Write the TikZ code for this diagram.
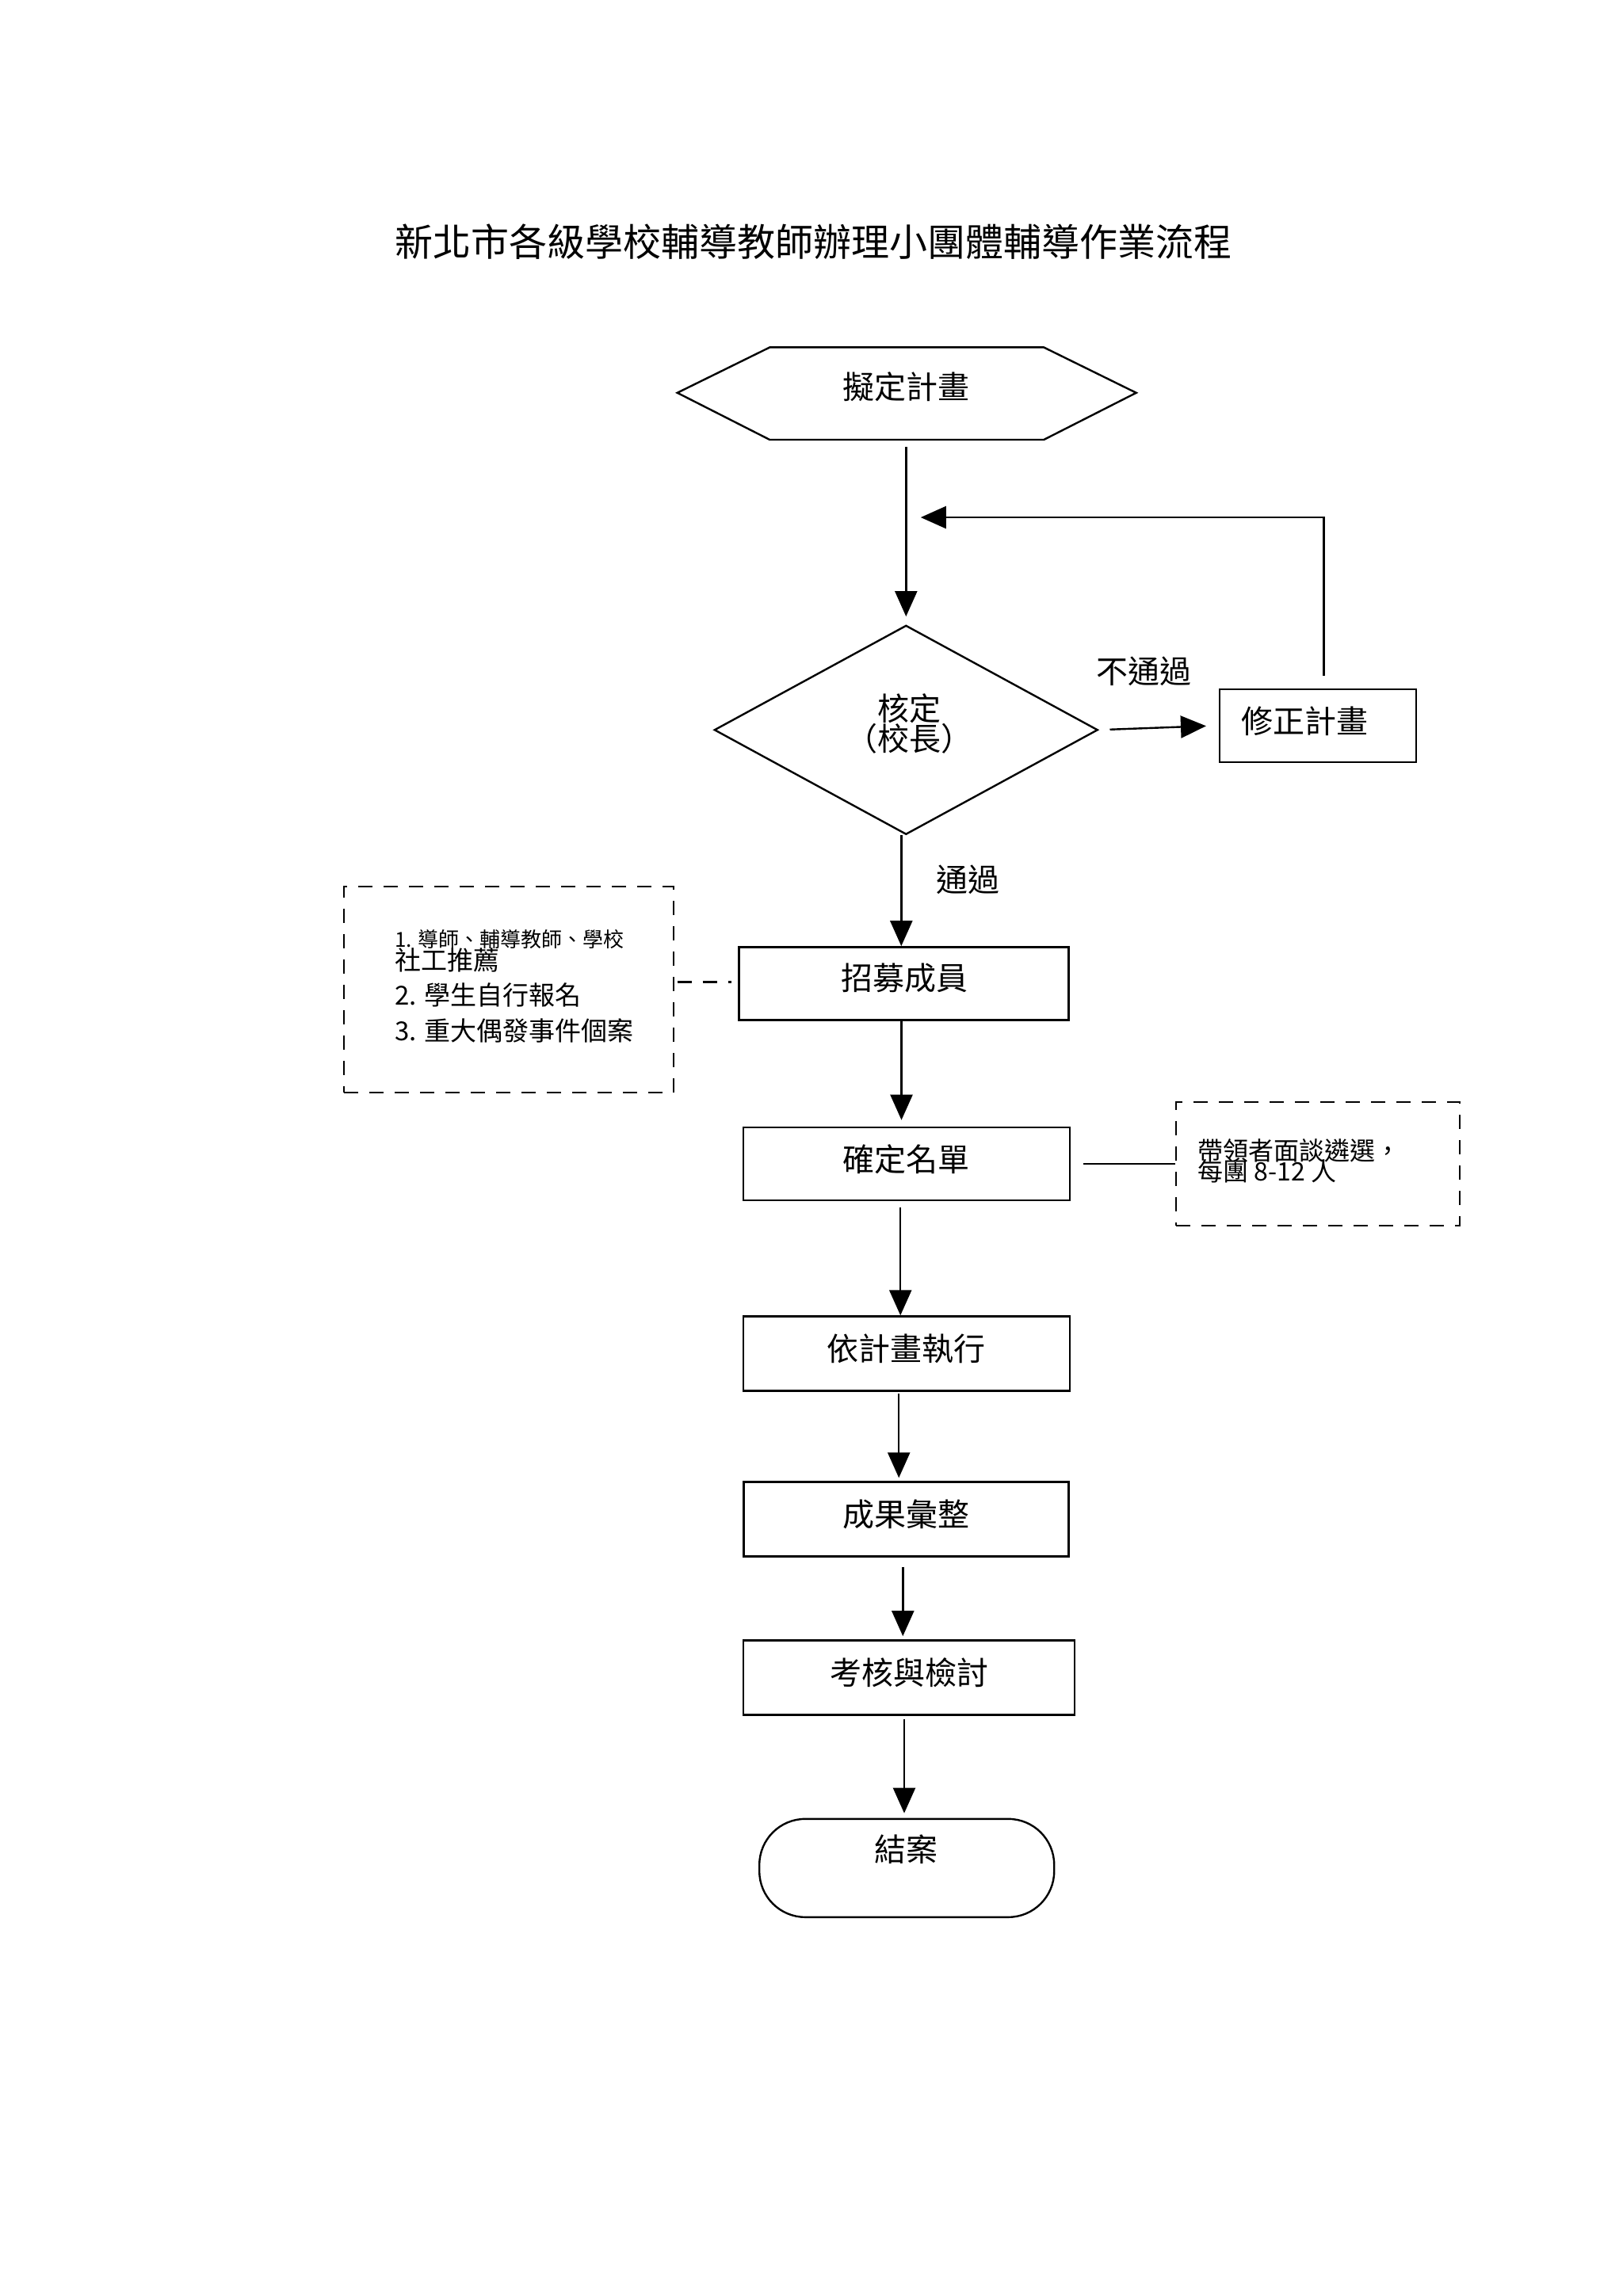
\documentclass[tikz,border=0pt]{standalone}
\usepackage{fontspec}
\setmainfont{Noto Sans CJK TC}
\usetikzlibrary{shapes.geometric,arrows.meta}
\begin{document}
\begin{tikzpicture}[x=0.925pt,y=-0.925pt,
  every node/.style={font=\fontsize{20}{24}\selectfont,inner sep=0pt},
  box/.style={draw,line width=1.2pt,rectangle},
  arr/.style={line width=1.2pt,-{Triangle[length=16pt,width=14pt]}},
  ln/.style={line width=1.2pt},
  dsh/.style={line width=1.2pt,dash pattern=on 9pt off 7pt},
  dbox/.style={draw,dsh,rectangle},
  small/.style={anchor=west,font=\fontsize{16.5}{18}\selectfont}]
\useasboundingbox (0,0) rectangle (1107,1566.5);
\node (title) at (555,165) {\fontsize{24}{28}\selectfont 新北市各級學校輔導教師辦理小團體輔導作業流程};
% hexagon
\draw[ln] (462,268) -- (525,237) -- (712,237) -- (775,268) -- (712,300) -- (525,300) -- cycle;
\node[minimum width=290pt,minimum height=58pt] (plan) at (618,268) {};
\node at (618,264) {擬定計畫};
\node[draw,diamond,line width=1.2pt,minimum width=242pt,minimum height=132pt,aspect=1.8] (check) at (618,498) {};
\node[align=center,font=\fontsize{20}{19}\selectfont] at (620,494) {核定\\（校長）};
\node[box,minimum width=124pt,minimum height=46pt] (rev) at (899,495) {};
\node at (890,492) {修正計畫};
\node at (780,458) {不通過};
\node at (660,600) {通過};
\node[box,minimum width=208pt,minimum height=46pt] (rec) at (616.5,671) {};
\node at (617,667) {招募成員};
\node[box,minimum width=206pt,minimum height=46pt] (conf) at (618.5,794) {};
\node at (618,791) {確定名單};
\node[box,minimum width=206pt,minimum height=47pt] (exec) at (618.5,923.5) {};
\node at (618,920) {依計畫執行};
\node[box,minimum width=205pt,minimum height=47pt] (res) at (618,1036.5) {};
\node at (618,1033) {成果彙整};
\node[box,minimum width=209pt,minimum height=47pt] (eval) at (620,1144.5) {};
\node at (620,1141) {考核與檢討};
\node[draw,line width=1.2pt,rounded corners=29pt,minimum width=186pt,minimum height=62pt] (end) at (618.5,1274.5) {};
\node at (618,1262) {結案};
% dashed boxes
\node[dbox,minimum width=208pt,minimum height=130pt] (lbox) at (347,675) {};
\node[small,font=\fontsize{13}{15}\selectfont] at (269,641) {1. 導師、輔導教師、學校};
\node[small] at (269,655) {社工推薦};
\node[small] at (269,679) {2. 學生自行報名};
\node[small] at (269,703) {3. 重大偶發事件個案};
\node[dbox,minimum width=179pt,minimum height=78pt] (rbox) at (899,794) {};
\node[small,font=\fontsize{16}{18}\selectfont] at (817,785) {帶領者面談遴選，};
\node[small,font=\fontsize{16}{18}\selectfont] at (817,799) {每團 8-12 人};
% connectors
\coordinate (lj) at (462,670);
\draw[arr,shorten <=5pt,shorten >=5pt] (plan.south) -- (check.north);
\draw[arr,shorten <=7pt,shorten >=8pt] (check.east) -- (rev.west);
\draw[arr,shorten <=8pt] (rev.north) ++(4,0) |- (628,353);
\draw[arr] ([xshift=-3pt]check.south) -- ([xshift=-3pt]check.south |- rec.north);
\draw[dsh,shorten >=4pt] (lj) -- (lj -| rec.west);
\draw[arr,shorten >=4pt] ([xshift=-1.5pt]rec.south) -- ([xshift=-1.5pt]rec.south |- conf.north);
\draw[ln,shorten <=8pt] (conf.east) -- (rbox.west);
\draw[arr,shorten <=4pt] ([xshift=-4pt]conf.south) -- ([xshift=-4pt]conf.south |- exec.north);
\draw[arr,shorten <=1pt,shorten >=2pt] ([xshift=-5pt]exec.south) -- ([xshift=-5pt]exec.south |- res.north);
\draw[arr,shorten <=6pt,shorten >=2pt] ([xshift=-2pt]res.south) -- ([xshift=-2pt]res.south |- eval.north);
\draw[arr,shorten <=2pt,shorten >=3pt] ([xshift=-3pt]eval.south) -- ([xshift=-3pt]eval.south |- end.north);
\end{tikzpicture}
\end{document}
